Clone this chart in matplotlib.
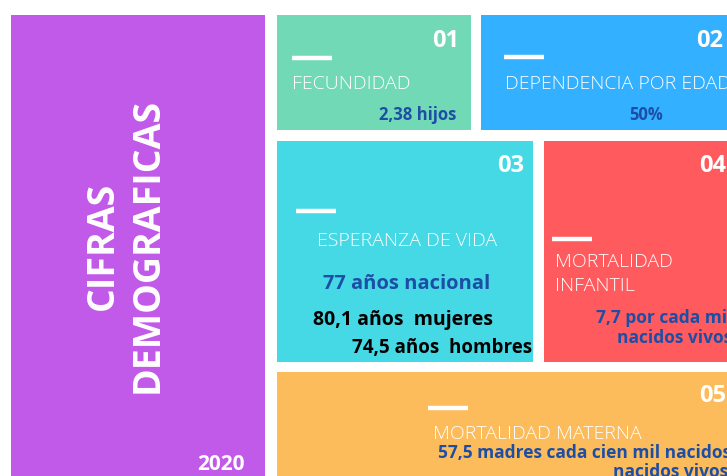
import matplotlib.pyplot as plt
from matplotlib.patches import Rectangle

plt.rcParams['font.family'] = ['Open Sans', 'DejaVu Sans']

# content
title_lines = ["CIFRAS", "DEMOGRAFICAS"]
year = "2020"
card_numbers = ["01", "02", "03", "04", "05"]
card_titles = ["FECUNDIDAD", "DEPENDENCIA POR EDAD", "ESPERANZA DE VIDA",
               "MORTALIDAD\nINFANTIL", "MORTALIDAD MATERNA"]
card_values = ["2,38 hijos", "50%", "77 años nacional"]
infant_mortality = ["7,7 por cada mil", "nacidos vivos"]
maternal_mortality = ["57,5 madres cada cien mil nacidos", "nacidos vivos"]
life_by_sex = ["80,1 años  mujeres", "74,5 años  hombres"]

card_colors = ["#72D9B7", "#33B0FF", "#45D9E6", "#FF5B5E", "#FDBC5B"]
purple = "#C159E9"
dark_blue = "#1D4EA6"

# layout in pixels (x0, y0, x1, y1)
boxes = [(277, 15, 471, 130), (481, 15, 740, 130), (277, 141, 533, 362),
         (544, 141, 740, 362), (277, 372, 740, 490)]

fig = plt.figure(figsize=(7.27, 4.76), dpi=100)
ax = fig.add_axes([0, 0, 1, 1])
ax.set_xlim(0, 727)
ax.set_ylim(476, 0)
ax.axis("off")

# left purple panel
ax.add_patch(Rectangle((11, 15), 254, 470, color=purple, lw=0))
ax.text(103, 246, title_lines[0], rotation=90, ha="center", va="center",
        color="white", fontsize=27, fontweight="bold")
ax.text(148, 245, title_lines[1], rotation=90, ha="center", va="center",
        color="white", fontsize=27, fontweight="bold")
ax.text(221, 464, year, ha="center", va="center", color="white",
        fontsize=15, fontweight="bold")

for (x0, y0, x1, y1), c in zip(boxes, card_colors):
    ax.add_patch(Rectangle((x0, y0), x1 - x0, y1 - y0, color=c, lw=0))

num_pos = [(459, 41), (723, 41), (524, 166), (726, 166), (726, 396)]
for (x, y), n in zip(num_pos, card_numbers):
    ax.text(x, y, n, ha="right", va="center", color="white",
            fontsize=17, fontweight="bold")

bar_pos = [(292, 58), (504, 57), (296, 211), (552, 239), (428, 408)]
for x, y in bar_pos:
    ax.plot([x, x + 40], [y, y], color="white", lw=3.2, solid_capstyle="butt")

title_pos = [(292, 84), (505, 84), (317, 241), (555, 274), (433, 434)]
for (x, y), t in zip(title_pos, card_titles):
    ax.text(x, y, t, ha="left", va="center", color="white", fontsize=14,
            fontweight="light", linespacing=1.45)

# values
ax.text(456, 115, card_values[0], ha="right", va="center", color=dark_blue,
        fontsize=12, fontweight="bold")
ax.text(646, 115, card_values[1], ha="center", va="center", color=dark_blue,
        fontsize=12, fontweight="bold")
ax.text(407, 284, card_values[2], ha="center", va="center", color=dark_blue,
        fontsize=14.5, fontweight="bold")
ax.text(313, 320, life_by_sex[0], ha="left", va="center", color="black",
        fontsize=14, fontweight="bold")
ax.text(352, 348, life_by_sex[1], ha="left", va="center", color="black",
        fontsize=13.5, fontweight="bold")
ax.text(596, 318, infant_mortality[0], ha="left", va="center", color=dark_blue,
        fontsize=12.5, fontweight="bold")
ax.text(617, 338, infant_mortality[1], ha="left", va="center", color=dark_blue,
        fontsize=12.5, fontweight="bold")
ax.text(438, 453, maternal_mortality[0], ha="left", va="center", color=dark_blue,
        fontsize=12.5, fontweight="bold")
ax.text(613, 472, maternal_mortality[1], ha="left", va="center", color=dark_blue,
        fontsize=12.5, fontweight="bold")

fig.savefig("out.png", dpi=100)
